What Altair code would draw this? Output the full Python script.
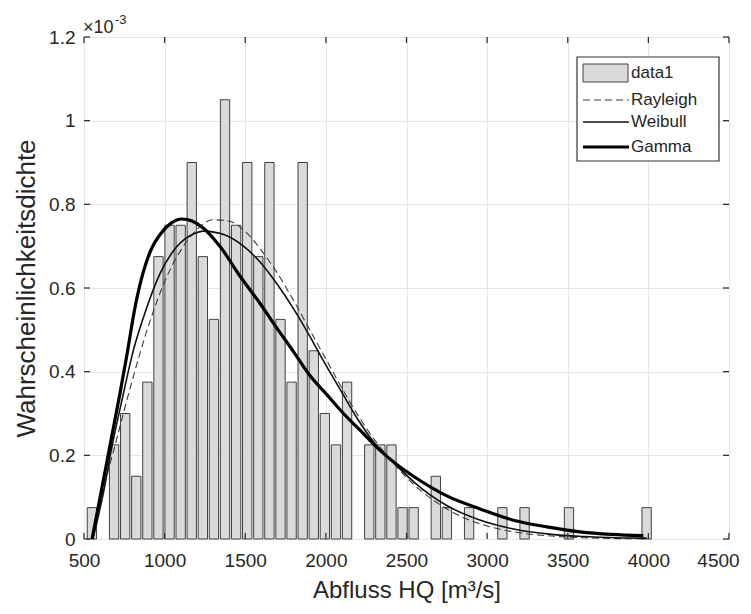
import altair as alt
import pandas as pd

# ---------------- data ----------------
bin_first_center = 549
bin_width = 68.8
bar_density = [0.075, 0, 0.225, 0.30, 0.15, 0.375, 0.675, 0.75, 0.75, 0.90,
               0.675, 0.525, 1.05, 0.75, 0.90, 0.675, 0.90, 0.525, 0.375, 0.90,
               0.45, 0.30, 0.225, 0.375, 0, 0.225, 0.225, 0.225, 0.075, 0.075,
               0, 0.15, 0.075, 0, 0.075, 0, 0, 0.075, 0, 0.075,
               0, 0, 0, 0.075, 0, 0, 0, 0, 0, 0, 0.075]

rayleigh_x = [555, 600, 700, 800, 900, 1000, 1100, 1200, 1300, 1400, 1500, 1600,
              1700, 1800, 1900, 2000, 2100, 2200, 2300, 2400, 2500, 2600, 2700,
              2800, 3000, 3200, 3400, 3600, 3800, 3990]
rayleigh_y = [0, 0.085, 0.235, 0.38, 0.51, 0.615, 0.69, 0.74, 0.763, 0.76, 0.735,
              0.69, 0.635, 0.57, 0.50, 0.43, 0.36, 0.295, 0.238, 0.19, 0.147,
              0.112, 0.084, 0.061, 0.031, 0.015, 0.007, 0.003, 0.001, 0.0003]

weibull_x = [555, 620, 673, 740, 807, 869, 972, 1076, 1179, 1241, 1386, 1489,
             1592, 1696, 1800, 1900, 1964, 2100, 2200, 2300, 2440, 2550, 2750,
             2950, 3150, 3400, 3600, 3800, 3990]
weibull_y = [0, 0.11, 0.22, 0.34, 0.452, 0.53, 0.635, 0.699, 0.729, 0.736, 0.725,
             0.70, 0.662, 0.61, 0.55, 0.485, 0.44, 0.35, 0.285, 0.23, 0.175,
             0.135, 0.08, 0.046, 0.025, 0.011, 0.006, 0.003, 0.002]

gamma_x = [550, 600, 662, 724, 766, 817, 869, 920, 972, 1040, 1107, 1170, 1241,
           1344, 1468, 1592, 1696, 1799, 1902, 2006, 2109, 2212, 2336, 2450, 2543,
           2650, 2750, 2956, 3163, 3370, 3576, 3770, 3969]
gamma_y = [0, 0.10, 0.225, 0.35, 0.44, 0.555, 0.64, 0.695, 0.728, 0.755, 0.765,
           0.76, 0.743, 0.699, 0.628, 0.563, 0.504, 0.448, 0.39, 0.345, 0.30,
           0.26, 0.212, 0.175, 0.15, 0.124, 0.103, 0.072, 0.045, 0.029, 0.017,
           0.011, 0.008]

x_ticks = [500, 1000, 1500, 2000, 2500, 3000, 3500, 4000, 4500]
y_ticks = [0, 0.2, 0.4, 0.6, 0.8, 1.0, 1.2]
legend_labels = ["data1", "Rayleigh", "Weibull", "Gamma"]

# ---------------- build tables ----------------
bars = pd.DataFrame({
    "c": [bin_first_center + i * bin_width for i in range(len(bar_density))],
    "d": bar_density,
})
bars = bars[bars["d"] > 0].copy()
bars["x0"] = bars["c"] - 0.42 * bin_width
bars["x1"] = bars["c"] + 0.42 * bin_width

W, H = 645, 502
FONT = "Liberation Sans"
AX = "#262626"

xs = alt.Scale(domain=[500, 4500], nice=False)
ys = alt.Scale(domain=[0, 1.2], nice=False)

base_x_axis = alt.Axis(values=x_ticks, format="d", grid=True, gridColor="#e6e6e6",
                       domain=False, ticks=False, labelPadding=12, labelFlush=False,
                       labelOverlap=False, labelBound=False,
                       labelOffset={"condition": {"test": "datum.value == 4500", "value": -11},
                                    "value": 0},
                       labelFontSize=19, labelColor=AX, labelFont=FONT,
                       title="Abfluss HQ [m³/s]", titleFontSize=24,
                       titleFontWeight="normal", titleColor=AX, titleFont=FONT,
                       titlePadding=8)
base_y_axis = alt.Axis(values=y_ticks, format="~g", grid=True, gridColor="#e6e6e6",
                       domain=False, ticks=False, labelPadding=9, labelFlush=False,
                       labelOverlap=False,
                       labelFontSize=19, labelColor=AX, labelFont=FONT,
                       title="Wahrscheinlichkeitsdichte", titleFontSize=26,
                       titleFontWeight="normal", titleColor=AX, titleFont=FONT,
                       titlePadding=9)

hist = alt.Chart(bars).mark_rect(fill="#dadada", stroke="#404040", strokeWidth=1).encode(
    x=alt.X("x0:Q", scale=xs, axis=base_x_axis),
    x2="x1:Q",
    y=alt.Y("d:Q", scale=ys, axis=base_y_axis),
    y2=alt.datum(0),
)

def curve(xv, yv, **kw):
    df = pd.DataFrame({"x": xv, "y": yv})
    return alt.Chart(df).mark_line(interpolate="monotone", **kw).encode(
        x=alt.X("x:Q", scale=xs), y=alt.Y("y:Q", scale=ys))

ray = curve(rayleigh_x, rayleigh_y, color="#3a3a3a", strokeWidth=1.1, strokeDash=[7, 4])
wei = curve(weibull_x, weibull_y, color="#111111", strokeWidth=1.6)
gam = curve(gamma_x, gamma_y, color="#000000", strokeWidth=3.2)

# inward tick marks on all four sides
xt = pd.DataFrame({"v": x_ticks})
yt = pd.DataFrame({"v": y_ticks})
tick_col = "#333333"
xt_bot = alt.Chart(xt).mark_rule(color=tick_col, strokeWidth=1.3).encode(
    x=alt.X("v:Q", scale=xs), y=alt.value(H), y2=alt.value(H - 6))
xt_top = alt.Chart(xt).mark_rule(color=tick_col, strokeWidth=1.3).encode(
    x=alt.X("v:Q", scale=xs), y=alt.value(0), y2=alt.value(6))
yt_left = alt.Chart(yt).mark_rule(color=tick_col, strokeWidth=1.3).encode(
    y=alt.Y("v:Q", scale=ys), x=alt.value(0), x2=alt.value(6))
yt_right = alt.Chart(yt).mark_rule(color=tick_col, strokeWidth=1.3).encode(
    y=alt.Y("v:Q", scale=ys), x=alt.value(W), x2=alt.value(W - 6))

one = pd.DataFrame({"a": [0]})

# exponent label
exp_main = alt.Chart(one).mark_text(align="left", baseline="alphabetic", fontSize=18,
                                     font=FONT, color=AX).encode(
    x=alt.value(-1), y=alt.value(-4), text=alt.value("×10"))
exp_sup = alt.Chart(one).mark_text(align="left", baseline="alphabetic", fontSize=13,
                                    font=FONT, color=AX).encode(
    x=alt.value(31), y=alt.value(-13), text=alt.value("-3"))

# legend
lx0, lx1, ly0, ly1 = 493, 635, 20, 124
leg_box = alt.Chart(one).mark_rect(fill="white", stroke="#333333", strokeWidth=1.2).encode(
    x=alt.value(lx0), x2=alt.value(lx1), y=alt.value(ly0), y2=alt.value(ly1))
leg_patch = alt.Chart(one).mark_rect(fill="#dadada", stroke="#404040", strokeWidth=1).encode(
    x=alt.value(499), x2=alt.value(544), y=alt.value(27), y2=alt.value(45))
leg_ray = alt.Chart(one).mark_rule(color="#3a3a3a", strokeWidth=1.1, strokeDash=[7, 4]).encode(
    x=alt.value(499), x2=alt.value(545), y=alt.value(63))
leg_wei = alt.Chart(one).mark_rule(color="#111111", strokeWidth=1.6).encode(
    x=alt.value(499), x2=alt.value(545), y=alt.value(85))
leg_gam = alt.Chart(one).mark_rule(color="#000000", strokeWidth=3.2).encode(
    x=alt.value(499), x2=alt.value(545), y=alt.value(110))
leg_texts = []
for lab, yy in zip(legend_labels, [36, 63, 85, 110]):
    leg_texts.append(alt.Chart(one).mark_text(align="left", baseline="middle", fontSize=17,
                                              font=FONT, color=AX).encode(
        x=alt.value(547), y=alt.value(yy), text=alt.value(lab)))

chart = alt.layer(hist, ray, wei, gam, xt_bot, xt_top, yt_left, yt_right,
                  exp_main, exp_sup, leg_box, leg_patch, leg_ray, leg_wei, leg_gam,
                  *leg_texts).properties(
    width=W, height=H,
    autosize=alt.AutoSizeParams(type="none"),
    padding={"left": 76, "top": 29, "right": 14, "bottom": 67},
).configure_view(stroke="#333333", strokeWidth=1.3).configure(background="white")

chart.save("out.html", embed_options={"renderer": "svg", "actions": False})
